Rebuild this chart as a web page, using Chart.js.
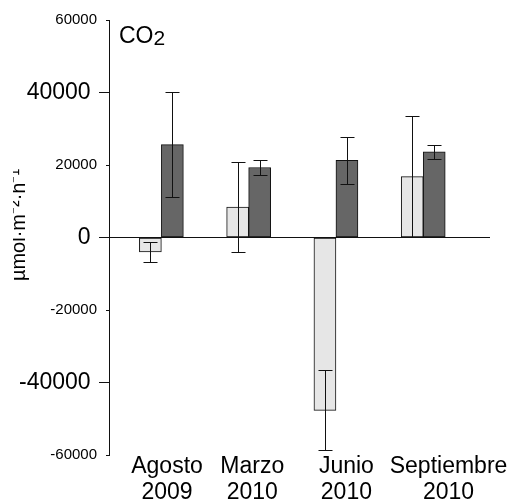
<!DOCTYPE html>
<html>
<head>
<meta charset="utf-8">
<script src="https://cdn.jsdelivr.net/npm/chart.js@4.4.0/dist/chart.umd.min.js"></script>
<style>
  body { margin: 0; background: #fff; }
</style>
</head>
<body>
<canvas id="myChart" width="514" height="501"></canvas>
<script>
"use strict";

const categories = ["Agosto 2009", "Marzo 2010", "Junio 2010", "Septiembre 2010"];
const lightValues = [-4000, 8400, -47700, 16800];
const lightErrors = [2750, 12450, 11050, 16650];
const darkValues = [25600, 19300, 21300, 23600];
const darkErrors = [14400, 1950, 6450, 2050];
const yTicks = [-60000, -40000, -20000, 0, 20000, 40000, 60000];

// labels in the original sit a bit right of their bars
const labelShift = [0.065, 0.042, 0.12, 0.29];

const font = "'Liberation Sans', Arial, sans-serif";

function toPoints(values) {
  return values.map((v, i) => ({ x: i + 1, y: v }));
}

function isBigTick(value) {
  return value % 40000 === 0;
}

const errorBars = {
  id: "errorBars",
  afterDatasetsDraw(chart) {
    const ctx = chart.ctx;
    const y = chart.scales.y;
    const errors = [lightErrors, darkErrors];
    ctx.save();
    ctx.strokeStyle = "#111";
    ctx.lineWidth = 1;
    chart.data.datasets.forEach((ds, d) => {
      const meta = chart.getDatasetMeta(d);
      meta.data.forEach((bar, i) => {
        const v = ds.data[i].y;
        const top = Math.round(y.getPixelForValue(v + errors[d][i])) + 0.5;
        const bottom = Math.round(y.getPixelForValue(v - errors[d][i])) + 0.5;
        const x = Math.round(bar.x) + 0.5;
        ctx.beginPath();
        ctx.moveTo(x, top);
        ctx.lineTo(x, bottom);
        ctx.moveTo(x - 7, top);
        ctx.lineTo(x + 7, top);
        ctx.moveTo(x - 7, bottom);
        ctx.lineTo(x + 7, bottom);
        ctx.stroke();
      });
    });
    ctx.restore();
  }
};

const textBits = {
  id: "textBits",
  afterDraw(chart) {
    const ctx = chart.ctx;
    ctx.save();
    ctx.fillStyle = "#000";
    ctx.textBaseline = "alphabetic";
    ctx.font = "23px " + font;
    ctx.fillText("CO", 119, 43);
    const w = ctx.measureText("CO").width;
    ctx.font = "21px " + font;
    ctx.fillText("2", 119 + w, 45);

    // the axis title is half hidden in the original
    ctx.beginPath();
    ctx.rect(13, 0, 40, chart.height);
    ctx.clip();
    ctx.translate(25, 225);
    ctx.rotate(-Math.PI / 2);
    ctx.textAlign = "center";
    ctx.font = "20px " + font;
    ctx.fillText("µmol·m⁻²·h⁻¹", 0, 0);
    ctx.restore();
  }
};

const data = {
  datasets: [
    {
      label: "light",
      data: toPoints(lightValues),
      backgroundColor: "#e6e6e6",
      borderColor: "#111",
      borderWidth: 1,
      borderSkipped: false,
      barThickness: 22,
    },
    {
      label: "dark",
      data: toPoints(darkValues),
      backgroundColor: "#666666",
      borderColor: "#111",
      borderWidth: 1,
      borderSkipped: false,
      barThickness: 22,
    },
  ],
};

const config = {
  type: "bar",
  data: data,
  options: {
    responsive: false,
    animation: false,
    layout: { padding: { top: 20, right: 24, left: 0, bottom: 0 } },
    plugins: {
      legend: { display: false },
      tooltip: { enabled: false },
    },
    scales: {
      x: {
        type: "linear",
        offset: false,
        min: 0.4,
        max: 4.765,
        grid: { display: false, drawTicks: false, offset: false },
        border: { display: false },
        afterBuildTicks(scale) {
          scale.ticks = categories.map((c, i) => ({ value: i + 1 + labelShift[i] }));
        },
        afterFit(scale) {
          scale.height = 46;
        },
        ticks: {
          autoSkip: false,
          maxRotation: 0,
          padding: -1,
          color: "#000",
          font: { family: font, size: 23, lineHeight: 1.13 },
          callback: (value, index) => categories[index].split(" "),
        },
      },
      y: {
        min: -60000,
        max: 60000,
        afterBuildTicks(scale) {
          scale.ticks = yTicks.map((v) => ({ value: v }));
        },
        afterFit(scale) {
          scale.width = 109;
        },
        border: { display: true, color: "#111", width: 1 },
        grid: {
          color: (c) => (c.tick && c.tick.value === 0 ? "#111" : "rgba(0,0,0,0)"),
          lineWidth: 1,
          tickColor: "#111",
          tickLength: 10,
          tickBorderDash: (c) => (c.tick && isBigTick(c.tick.value) ? [] : [0, 7, 3, 0]),
        },
        ticks: {
          padding: 2,
          color: "#000",
          font: (c) => ({ family: font, size: c.tick && isBigTick(c.tick.value) ? 23 : 15 }),
          callback: (value) => (isBigTick(value) ? value + " " : String(value)),
        },
      },
    },
  },
  plugins: [errorBars, textBits],
};

const myChart = new Chart(document.getElementById("myChart"), config);
</script>
</body>
</html>
